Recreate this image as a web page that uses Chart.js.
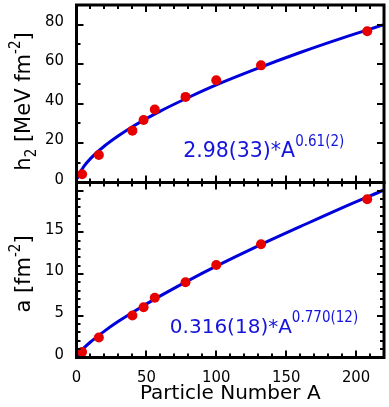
<!DOCTYPE html>
<html><head><meta charset="utf-8">
<script src="https://cdn.jsdelivr.net/npm/chart.js@4/dist/chart.umd.min.js"></script>
<style>html,body{margin:0;padding:0;background:#fff;}#wrap{width:389px;height:407px;position:relative}</style>
</head><body><div id="wrap"><canvas id="c" width="389" height="407"></canvas></div>
<script>
const FONT = '"DejaVu Sans Condensed", "DejaVu Sans", sans-serif';
const FONTW = '"DejaVu Sans", sans-serif';
// nuclei: 4He, 16O, 40Ca, 48Ca, 56Ni, 78Ni, 100Sn, 132Sn, 208Pb
const nucleusA = [4, 16, 40, 48, 56, 78, 100, 132, 208];
const h2Values = [4.2, 13.9, 26.3, 31.7, 37.0, 43.4, 51.8, 59.4, 76.7];
const aValues  = [0.67, 2.39, 5.05, 6.04, 7.16, 9.02, 11.1, 13.6, 19.0];
// fit curves
const fitA  = [0.5, 2, 5, 10, 20, 30, 40, 60, 80, 100, 130, 160, 190, 220];
const h2Fit = [1.9, 4.5, 7.9, 12.1, 18.5, 23.7, 28.3, 36.2, 43.1, 49.5, 58.0, 65.9, 73.2, 80.0];
const aFit  = [0.19, 0.54, 1.09, 1.86, 3.17, 4.34, 5.41, 7.39, 9.23, 10.96, 13.4, 15.7, 17.96, 20.1];
const xTicks  = [0, 50, 100, 150, 200];
const h2Ticks = [0, 20, 40, 60, 80];
const aTicks  = [0, 5, 10, 15];
const h2Label = [{t:'h'},{t:'2',sub:true},{t:' [MeV fm'},{t:'-2',sup:true},{t:']'}];
const aLabel  = [{t:'a [fm'},{t:'-2',sup:true},{t:']'}];
const h2FitText = ['2.98(33)*A', '0.61(2)'];
const aFitText  = ['0.316(18)*A', '0.770(12)'];

const RED = '#e60000', BLUE = '#0000dc', TXTBLUE = '#1414dc';
const pts = (xs, ys) => xs.map((x, i) => ({x, y: ys[i]}));

function drawRich(ctx, parts, x, y, size, small, align, supUp) {
  let w = 0;
  const m = parts.map(p => {
    const s = (p.sub || p.sup) ? small : size;
    const f = (p.sub || p.sup) ? FONT : FONTW;
    ctx.font = s + 'px ' + f;
    const pw = ctx.measureText(p.t).width;
    w += pw;
    return {p, s, f, pw};
  });
  let cx = align === 'center' ? x - w / 2 : x;
  ctx.textBaseline = 'alphabetic';
  ctx.textAlign = 'left';
  for (const {p, s, f, pw} of m) {
    ctx.font = s + 'px ' + f;
    const dy = p.sub ? size * 0.3 : (p.sup ? -size * supUp : 0);
    ctx.fillText(p.t, cx, y + dy);
    cx += pw;
  }
}

const decor = {
  id: 'decor',
  afterDraw(chart) {
    const ctx = chart.ctx;
    const x = chart.scales.x, yT = chart.scales.yTop, yB = chart.scales.yBot;
    ctx.save();
    ctx.strokeStyle = '#000';
    ctx.lineWidth = 2;
    ctx.beginPath();
    const panels = [[yT, 10, 20], [yB, 1, 5]];
    for (const [ys, minor, major] of panels) {
      for (let v = 10; v < 220; v += 10) {
        const px = Math.round(x.getPixelForValue(v));
        const len = v % 50 === 0 ? 7 : 4;
        ctx.moveTo(px, ys.top); ctx.lineTo(px, ys.top + len);
        ctx.moveTo(px, ys.bottom); ctx.lineTo(px, ys.bottom - len);
      }
      for (let v = minor; v < ys.max; v += minor) {
        const py = Math.round(ys.getPixelForValue(v));
        const len = v % major === 0 ? 7 : 4;
        ctx.moveTo(x.left, py); ctx.lineTo(x.left + len, py);
        ctx.moveTo(x.right, py); ctx.lineTo(x.right - len, py);
      }
    }
    ctx.stroke();
    ctx.lineWidth = 3;
    for (const ys of [yT, yB]) {
      ctx.strokeRect(x.left, ys.top, x.right - x.left, ys.bottom - ys.top);
    }
    ctx.fillStyle = '#000';
    ctx.save();
    ctx.translate(30, 101.5);
    ctx.rotate(-Math.PI / 2);
    drawRich(ctx, h2Label, 0, 0, 21, 15, 'center', 0.5);
    ctx.restore();
    ctx.save();
    ctx.translate(30, 274);
    ctx.rotate(-Math.PI / 2);
    drawRich(ctx, aLabel, 0, 0, 21, 15, 'center', 0.5);
    ctx.restore();
    ctx.fillStyle = TXTBLUE;
    const f1 = [{t: h2FitText[0]}, {t: h2FitText[1], sup: true}];
    drawRich(ctx, f1, x.getPixelForValue(76.3), yT.getPixelForValue(12.8), 20.5, 15, 'left', 0.57);
    const f2 = [{t: aFitText[0]}, {t: aFitText[1], sup: true}];
    drawRich(ctx, f2, x.getPixelForValue(66.8), yB.getPixelForValue(2.9), 20, 15, 'left', 0.58);
    ctx.restore();
  }
};

const tickFont = {family: FONT, size: 16.5};
function yScale(min, max, ticks, weight) {
  return {
    type: 'linear', position: 'left', stack: 'panels', stackWeight: weight,
    min, max,
    grid: {display: false, drawTicks: false}, border: {display: false},
    afterBuildTicks: s => { s.ticks = ticks.map(v => ({value: v})); },
    afterFit: s => { s.width = 76.5; s.paddingTop = 0; s.paddingBottom = 0; },
    ticks: {font: tickFont, color: '#000', padding: 12.5, labelOffset: -3}
  };
}

new Chart(document.getElementById('c'), {
  type: 'scatter',
  data: {
    datasets: [
      {label: 'h2', data: pts(nucleusA, h2Values), xAxisID: 'x', yAxisID: 'yTop',
       pointRadius: 5, pointHoverRadius: 5, backgroundColor: RED, borderWidth: 0, order: 0, clip: false},
      {label: 'h2 fit', data: pts(fitA, h2Fit), xAxisID: 'x', yAxisID: 'yTop', showLine: true,
       pointRadius: 0, borderColor: BLUE, borderWidth: 3, cubicInterpolationMode: 'monotone', order: 1},
      {label: 'a', data: pts(nucleusA, aValues), xAxisID: 'x', yAxisID: 'yBot',
       pointRadius: 5, pointHoverRadius: 5, backgroundColor: RED, borderWidth: 0, order: 0, clip: false},
      {label: 'a fit', data: pts(fitA, aFit), xAxisID: 'x', yAxisID: 'yBot', showLine: true,
       pointRadius: 0, borderColor: BLUE, borderWidth: 3, cubicInterpolationMode: 'monotone', order: 1}
    ]
  },
  options: {
    responsive: false, animation: false,
    layout: {padding: {top: 4, right: 4.5, left: 0, bottom: 0}},
    plugins: {legend: {display: false}, tooltip: {enabled: false}},
    scales: {
      x: {
        type: 'linear', position: 'bottom', min: 0, max: 220,
        grid: {display: false, drawTicks: false}, border: {display: false},
        afterBuildTicks: s => { s.ticks = xTicks.map(v => ({value: v})); },
        afterFit: s => { s.height = 49.5; s.paddingLeft = 0; s.paddingRight = 0; },
        ticks: {font: tickFont, color: '#000', padding: 10, maxRotation: 0},
        title: {display: true, text: 'Particle Number A', color: '#000',
                font: {family: FONTW, size: 20}, padding: {top: 0, bottom: 1}}
      },
      yBot: yScale(0, 21, aTicks, 175.5),
      yTop: yScale(0, 90, h2Ticks, 178)
    }
  },
  plugins: [decor]
});
</script></body></html>
